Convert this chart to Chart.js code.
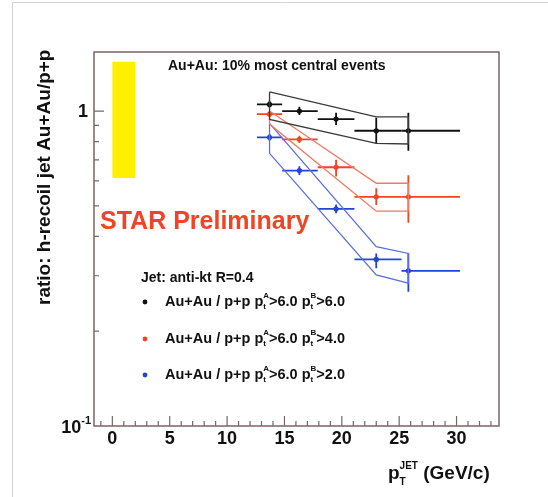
<!DOCTYPE html>
<html>
<head>
<meta charset="utf-8">
<script src="https://cdn.jsdelivr.net/npm/chart.js@4.4.0/dist/chart.umd.min.js"></script>
<style>
html,body{margin:0;padding:0;background:#fff;}
</style>
</head>
<body>
<canvas id="myChart" width="548" height="497"></canvas>
<script>
// jet pT bins (GeV/c)
var ptX   = [13.7, 16.3, 19.5, 23.0, 25.8];
var ptXlo = [12.6, 14.8, 17.9, 21.1, 25.2];
var ptXhi = [14.8, 17.9, 21.1, 25.2, 30.3];

// Au+Au / p+p, pt^B > 6.0
var blackY  = [1.05, 1.00, 0.943, 0.866, 0.866];
var blackLo = [1.027, 0.971, 0.903, 0.789, 0.748];
var blackHi = [1.078, 1.032, 0.988, 0.953, 0.988];
// pt^B > 4.0
var redY  = [0.978, 0.813, 0.663, 0.534, 0.534];
var redLo = [0.958, 0.792, 0.620, 0.503, 0.442];
var redHi = [0.998, 0.835, 0.700, 0.569, 0.626];
// pt^B > 2.0
var blueY  = [0.825, 0.647, 0.489, 0.338, 0.311];
var blueLo = [0.805, 0.627, 0.474, 0.317, 0.267];
var blueHi = [0.846, 0.668, 0.505, 0.353, 0.353];

// systematic bands
var bandX = [13.7, 23.0, 25.8];
var blackBandUp = [1.15, 0.959, 0.959];
var blackBandLo = [0.941, 0.79, 0.786];
var redBandUp = [1.0, 0.59, 0.59];
var redBandLo = [0.909, 0.481, 0.481];
var blueBandUp = [0.914, 0.371, 0.353];
var blueBandLo = [0.734, 0.302, 0.284];

// normalisation box: x0, x1, ylow, yhigh
var normBox = [0, 2, 0.613, 1.434];

var xTickValues = [0, 5, 10, 15, 20, 25, 30];
var xTickLabels = ['0', '5', '10', '15', '20', '25', '30'];
var yMinor = [0.2, 0.3, 0.4, 0.5, 0.6, 0.7, 0.8, 0.9];

var BLACK = '#111111', RED = '#ee4524', BLUE = '#2343dc';
var FONT = '"Liberation Sans", Arial, sans-serif';

function points(ys) {
    return ptX.map(function (x, i) { return {x: x, y: ys[i]}; });
}
function band(up, lo) {
    var arr = [];
    for (var i = 0; i < bandX.length; i++) arr.push({x: bandX[i], y: up[i]});
    for (var j = bandX.length - 1; j >= 0; j--) arr.push({x: bandX[j], y: lo[j]});
    arr.push({x: bandX[0], y: up[0]});
    return arr;
}
function bandSet(up, lo, col) {
    return {type: 'line', data: band(up, lo), borderColor: col, borderWidth: 1.3,
        pointRadius: 0, tension: 0, fill: false};
}
function pointSet(ys, col) {
    return {type: 'scatter', data: points(ys), backgroundColor: col, borderColor: col,
        pointRadius: 2.6, pointBorderWidth: 0};
}

function drawErr(c, xs, ys, yv, lo, hi, col) {
    c.save();
    c.strokeStyle = col;
    c.lineWidth = 1.8;
    for (var i = 0; i < ptX.length; i++) {
        var px = xs.getPixelForValue(ptX[i]), py = ys.getPixelForValue(yv[i]);
        c.beginPath();
        c.moveTo(xs.getPixelForValue(ptXlo[i]), py);
        c.lineTo(xs.getPixelForValue(ptXhi[i]), py);
        c.moveTo(px, ys.getPixelForValue(lo[i]));
        c.lineTo(px, ys.getPixelForValue(hi[i]));
        c.stroke();
    }
    c.restore();
}

// draw text pieces with sub/superscripts, left to right
function rich(c, parts, x, y) {
    c.textBaseline = 'middle';
    c.textAlign = 'left';
    var i = 0;
    while (i < parts.length) {
        var p = parts[i];
        c.font = 'bold ' + p.s + 'px ' + FONT;
        c.fillText(p.t, x, y + (p.dy || 0));
        var w = c.measureText(p.t).width;
        if (p.stack) {
            var q = parts[i + 1];
            c.font = 'bold ' + q.s + 'px ' + FONT;
            c.fillText(q.t, x, y + (q.dy || 0));
            w = Math.max(w, c.measureText(q.t).width);
            i++;
        }
        x += w;
        i++;
    }
}

var rootStyle = {
    id: 'rootStyle',
    beforeDatasetsDraw: function (chart) {
        var c = chart.ctx, xs = chart.scales.x, ys = chart.scales.y;
        c.save();
        c.fillStyle = '#fff000';
        var x0 = xs.getPixelForValue(normBox[0]), x1 = xs.getPixelForValue(normBox[1]);
        var y0 = ys.getPixelForValue(normBox[3]), y1 = ys.getPixelForValue(normBox[2]);
        c.fillRect(x0, y0, x1 - x0, y1 - y0);
        c.restore();
        drawErr(c, xs, ys, blackY, blackLo, blackHi, BLACK);
        drawErr(c, xs, ys, redY, redLo, redHi, RED);
        drawErr(c, xs, ys, blueY, blueLo, blueHi, BLUE);
    },
    afterDraw: function (chart) {
        var c = chart.ctx, xs = chart.scales.x, ys = chart.scales.y, a = chart.chartArea;
        c.save();
        // faint page border
        c.strokeStyle = '#d4d4d4';
        c.lineWidth = 1;
        c.beginPath();
        c.moveTo(12.5, 497); c.lineTo(12.5, 2.5); c.lineTo(548, 2.5);
        c.stroke();

        // frame
        c.strokeStyle = '#7a6666';
        c.lineWidth = 1.5;
        c.strokeRect(a.left, a.top, a.right - a.left, a.bottom - a.top);

        // x ticks, inside
        c.lineWidth = 1.2;
        c.beginPath();
        for (var v = -1; v <= 33; v++) {
            var px = xs.getPixelForValue(v);
            c.moveTo(px, a.bottom);
            c.lineTo(px, a.bottom - (v % 5 === 0 ? 10 : 5));
        }
        // y ticks
        yMinor.forEach(function (t) {
            var py = ys.getPixelForValue(t);
            c.moveTo(a.left, py); c.lineTo(a.left + 5, py);
        });
        var p1 = ys.getPixelForValue(1);
        c.moveTo(a.left, p1); c.lineTo(a.left + 10, p1);
        c.stroke();

        // tick labels
        c.fillStyle = '#111';
        c.font = 'bold 18px ' + FONT;
        c.textAlign = 'center';
        c.textBaseline = 'middle';
        xTickValues.forEach(function (t, i) {
            c.fillText(xTickLabels[i], xs.getPixelForValue(t), 439);
        });
        c.textAlign = 'right';
        c.fillText('1', 88, p1 + 1);
        c.font = 'bold 11px ' + FONT;
        var wsup = c.measureText('-1').width;
        c.fillText('-1', 91, ys.getPixelForValue(0.1) - 5);
        c.font = 'bold 18px ' + FONT;
        c.fillText('10', 91 - wsup, ys.getPixelForValue(0.1) + 2);

        // axis titles
        c.save();
        c.translate(45, 305);
        c.rotate(-Math.PI / 2);
        c.textAlign = 'left';
        c.font = 'bold 19px ' + FONT;
        c.fillText('ratio: h-recoil jet Au+Au/p+p', 0, 0);
        c.restore();
        rich(c, [
            {t: 'p', s: 19},
            {t: 'JET', s: 10, dy: -8, stack: true},
            {t: 'T', s: 10, dy: 8},
            {t: ' (GeV/c)', s: 19}
        ], 388, 474);

        // annotations
        c.fillStyle = '#111';
        rich(c, [{t: 'Au+Au: 10% most central events', s: 14}], 168, 66);
        c.fillStyle = RED;
        rich(c, [{t: 'STAR Preliminary', s: 25}], 100, 222);
        c.fillStyle = '#111';
        rich(c, [{t: 'Jet: anti-kt R=0.4', s: 14}], 141, 278);

        var legCols = [BLACK, RED, BLUE];
        var legB = ['6.0', '4.0', '2.0'];
        var legY = [302, 339, 375];
        for (var k = 0; k < 3; k++) {
            c.fillStyle = legCols[k];
            c.beginPath();
            c.arc(145, legY[k], 2.4, 0, Math.PI * 2);
            c.fill();
            c.fillStyle = '#111';
            rich(c, [
                {t: 'Au+Au / p+p p', s: 14.5},
                {t: 'A', s: 8, dy: -6, stack: true},
                {t: 't', s: 8, dy: 5},
                {t: '>6.0 p', s: 14.5},
                {t: 'B', s: 8, dy: -6, stack: true},
                {t: 't', s: 8, dy: 5},
                {t: '>' + legB[k], s: 14.5}
            ], 165, legY[k]);
        }
        c.restore();
    }
};

var ctx = document.getElementById('myChart');
var myChart = new Chart(ctx, {
    type: 'scatter',
    data: {
        datasets: [
            bandSet(blackBandUp, blackBandLo, '#3a3a3a'),
            bandSet(redBandUp, redBandLo, '#f07a62'),
            bandSet(blueBandUp, blueBandLo, '#5a6fe2'),
            pointSet(blackY, BLACK),
            pointSet(redY, RED),
            pointSet(blueY, BLUE)
        ]
    },
    options: {
        responsive: false,
        animation: false,
        layout: {padding: {left: 94, top: 52, right: 49, bottom: 71}},
        plugins: {legend: {display: false}, tooltip: {enabled: false}},
        scales: {
            x: {type: 'linear', min: -1.6, max: 33.7, display: false},
            y: {type: 'logarithmic', min: 0.1, max: 1.54, display: false}
        }
    },
    plugins: [rootStyle]
});
</script>
</body>
</html>
